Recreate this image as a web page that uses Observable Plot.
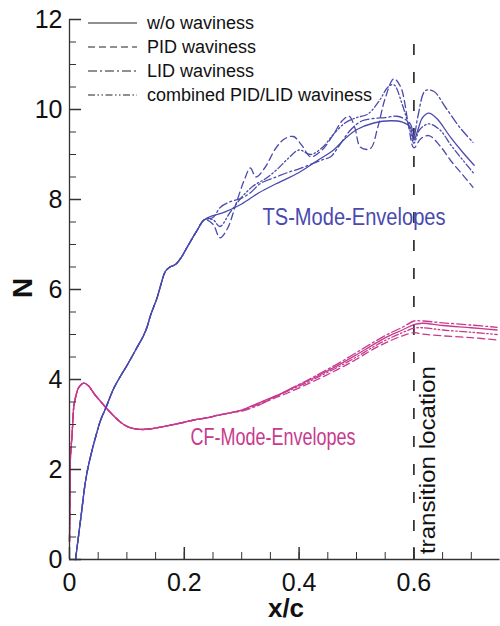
<!DOCTYPE html>
<html><head><meta charset="utf-8">
<script src="https://cdn.jsdelivr.net/npm/d3@7"></script>
<script src="https://cdn.jsdelivr.net/npm/@observablehq/plot@0.6"></script>
<style>body{margin:0;background:#fff;} svg{display:block}</style>
</head><body><div id="chart"></div>
<script>
// ---- data (x/c, N) ----
const seriesNames = ["w/o waviness", "PID waviness", "LID waviness", "combined PID/LID waviness"];

const tsCommon = [[0.0105,0],[0.02,0.95],[0.028,1.75],[0.035,2.2],[0.045,2.7],[0.054,3.09],[0.063,3.36],[0.077,3.8],[0.09,4.1],[0.1,4.31],[0.118,4.72],[0.128,4.95],[0.135,5.16],[0.141,5.42],[0.153,5.83],[0.159,6.1],[0.167,6.4],[0.175,6.5],[0.185,6.56],[0.195,6.72],[0.205,6.94],[0.222,7.31],[0.235,7.55]];
const tsWo = [[0.25,7.64],[0.27,7.72],[0.30,7.9],[0.33,8.15],[0.36,8.35],[0.40,8.6],[0.43,8.85],[0.46,9.1],[0.48,9.35],[0.50,9.55],[0.53,9.7],[0.56,9.75],[0.58,9.72],[0.593,9.62],[0.60,9.32],[0.607,9.55],[0.615,9.82],[0.626,9.92],[0.64,9.8],[0.664,9.38],[0.685,9.05],[0.705,8.76]];
const tsPid = [[0.25,7.45],[0.262,7.15],[0.275,7.35],[0.29,7.9],[0.305,8.45],[0.315,8.7],[0.325,8.5],[0.34,8.7],[0.36,9.15],[0.375,9.35],[0.39,9.4],[0.405,9.2],[0.42,8.95],[0.44,9.1],[0.46,9.45],[0.475,9.75],[0.487,9.85],[0.497,9.6],[0.507,9.16],[0.524,9.13],[0.537,9.6],[0.55,10.25],[0.565,10.68],[0.577,10.5],[0.59,9.7],[0.60,9.15],[0.612,9.35],[0.626,9.42],[0.645,9.2],[0.665,8.85],[0.685,8.55],[0.703,8.27]];
const tsLid = [[0.25,7.6],[0.263,7.83],[0.28,7.95],[0.298,8.02],[0.315,8.15],[0.333,8.36],[0.36,8.5],[0.38,8.6],[0.40,8.68],[0.42,8.78],[0.44,8.88],[0.455,8.95],[0.47,9.2],[0.49,9.55],[0.51,9.75],[0.53,9.8],[0.55,9.82],[0.57,9.85],[0.585,9.78],[0.595,9.65],[0.60,9.4],[0.607,9.85],[0.62,10.42],[0.635,10.4],[0.655,10.05],[0.68,9.6],[0.703,9.27]];
const tsComb = [[0.25,7.55],[0.262,7.4],[0.28,7.72],[0.30,8.05],[0.32,8.3],[0.34,8.45],[0.36,8.65],[0.38,8.9],[0.40,9.1],[0.42,9.0],[0.44,9.15],[0.46,9.45],[0.48,9.7],[0.50,9.82],[0.52,9.9],[0.54,10.2],[0.555,10.5],[0.565,10.55],[0.58,10.1],[0.594,9.5],[0.60,9.25],[0.61,9.55],[0.626,9.68],[0.645,9.55],[0.665,9.2],[0.685,8.88],[0.705,8.57]];

const cfCommon = [[0,0.4],[0.001,1.5],[0.0017,2.27],[0.0046,2.79],[0.0075,3.4],[0.0105,3.6],[0.016,3.82],[0.025,3.92],[0.033,3.86],[0.042,3.7],[0.055,3.5],[0.066,3.34],[0.078,3.18],[0.089,3.05],[0.1,2.96],[0.112,2.91],[0.124,2.89],[0.14,2.9],[0.17,2.97],[0.2,3.05],[0.217,3.1],[0.24,3.15],[0.26,3.21],[0.28,3.26]];
const cfWo = [[0.30,3.32],[0.33,3.48],[0.36,3.64],[0.38,3.76],[0.42,4.0],[0.44,4.13],[0.47,4.33],[0.50,4.55],[0.53,4.78],[0.555,4.96],[0.58,5.1],[0.60,5.22],[0.615,5.25],[0.65,5.2],[0.70,5.15],[0.745,5.1]];
const cfPid = [[0.30,3.31],[0.33,3.45],[0.36,3.6],[0.38,3.7],[0.42,3.93],[0.44,4.05],[0.47,4.24],[0.50,4.45],[0.53,4.68],[0.555,4.84],[0.58,4.97],[0.60,5.04],[0.615,5.01],[0.65,4.97],[0.70,4.93],[0.745,4.88]];
const cfLid = [[0.30,3.3],[0.33,3.43],[0.36,3.62],[0.38,3.76],[0.42,4.02],[0.44,4.16],[0.47,4.37],[0.50,4.6],[0.53,4.83],[0.555,5.01],[0.58,5.16],[0.60,5.3],[0.615,5.3],[0.65,5.26],[0.70,5.21],[0.745,5.16]];
const cfComb = [[0.30,3.32],[0.33,3.47],[0.36,3.63],[0.38,3.74],[0.42,3.97],[0.44,4.1],[0.47,4.29],[0.50,4.5],[0.53,4.73],[0.555,4.9],[0.58,5.04],[0.60,5.14],[0.615,5.15],[0.65,5.1],[0.70,5.05],[0.745,5.0]];

const transitionX = 0.6;
const xMajorTicks = [0, 0.2, 0.4, 0.6];
const xMinorTicks = [0,0.05,0.1,0.15,0.2,0.25,0.3,0.35,0.4,0.45,0.5,0.55,0.6,0.65,0.7];
const yMajorTicks = [0, 2, 4, 6, 8, 10, 12];
const yMinorTicks = [0,0.5,1,1.5,2,2.5,3,3.5,4,4.5,5,5.5,6,6.5,7,7.5,8,8.5,9,9.5,10,10.5,11,11.5,12];
const annotations = [
  {x: 0.4957, N: 7.6, text: "TS-Mode-Envelopes", mode: "TS"},
  {x: 0.3545, N: 2.71, text: "CF-Mode-Envelopes", mode: "CF"}
];

// ---- styling ----
const BLUE = "#4a4aae";
const MAG = "#c83a8e";
const dashes = ["none", "7,4", "9,3,2,3", "7,2.5,1.5,2.5,1.5,2.5"];
const textWidths = {"TS-Mode-Envelopes": 183, "CF-Mode-Envelopes": 165, "transition location": 188};

const toRows = (pts) => pts.map(([x, N]) => ({x, N}));
const tsTails = [tsWo, tsPid, tsLid, tsComb];
const cfTails = [cfWo, cfPid, cfLid, cfComb];

const lineMarks = [];
[cfTails, tsTails].forEach((tails, m) => {
  const common = m === 0 ? cfCommon : tsCommon;
  const color = m === 0 ? MAG : BLUE;
  tails.forEach((tail, i) => {
    lineMarks.push(Plot.line(toRows(common.concat(tail)), {
      x: "x", y: "N", stroke: color, strokeWidth: 1.3,
      strokeDasharray: dashes[i], curve: "catmull-rom"
    }));
  });
});

const axisColor = "#333";
const chart = Plot.plot({
  width: 500, height: 626,
  marginLeft: 69, marginRight: 0.5, marginTop: 19, marginBottom: 67,
  x: {domain: [0, 0.75]},
  y: {domain: [0, 12]},
  style: {fontFamily: "'Liberation Sans', Arial, Helvetica, sans-serif", background: "#fff", color: "#111"},
  marks: [
    Plot.ruleX([transitionX], {y1: 0, y2: 11.75, stroke: "#222", strokeWidth: 1.6, strokeDasharray: "11,17"}),
    ...lineMarks,
    Plot.text(annotations, {x: "x", y: "N", text: "text", fill: d => d.mode === "TS" ? BLUE : MAG, fontSize: 23}),
    Plot.text(["transition location"], {x: () => transitionX, y: () => 0.12, text: d => d, rotate: -90, textAnchor: "start", dx: 14, fontSize: 22, fill: "#111"}),
    Plot.ruleX([0], {y1: 0, y2: 12, stroke: axisColor, strokeWidth: 1.3}),
    Plot.ruleY([0], {stroke: axisColor, strokeWidth: 1.3}),
    Plot.axisX(xMinorTicks, {tickSize: -7, text: null, label: null, stroke: axisColor}),
    Plot.axisX(xMajorTicks, {tickSize: -12, text: null, label: null, stroke: axisColor, strokeWidth: 1.5}),
    Plot.axisX(xMajorTicks, {tickSize: 0, tickPadding: 14, label: null, fontSize: 25, tickFormat: d => String(d)}),
    Plot.axisY(yMinorTicks, {tickSize: -7, text: null, label: null, stroke: axisColor}),
    Plot.axisY(yMajorTicks, {tickSize: -12, text: null, label: null, stroke: axisColor, strokeWidth: 1.5}),
    Plot.axisY(yMajorTicks, {tickSize: 0, tickPadding: 7, label: null, fontSize: 25, tickFormat: d => String(d)})
  ]
});

const svg = d3.select(chart);
// fit annotation widths to the reference's condensed lettering
svg.selectAll("text").each(function() {
  const w = textWidths[this.textContent];
  if (w) d3.select(this).attr("textLength", w).attr("lengthAdjust", "spacingAndGlyphs");
});
// axis titles
svg.append("text").attr("x", 286).attr("y", 617).attr("text-anchor", "middle")
  .attr("font-size", 26).attr("font-weight", "bold").attr("fill", "#111").text("x/c");
svg.append("text").attr("transform", "translate(32,288) rotate(-90)").attr("text-anchor", "middle")
  .attr("font-size", 28).attr("font-weight", "bold").attr("fill", "#111").text("N");
// legend
const lg = svg.append("g").attr("font-size", 18).attr("fill", "#111").attr("text-anchor", "start");
seriesNames.forEach((name, i) => {
  const y = 23 + i * 24;
  lg.append("line").attr("x1", 88).attr("x2", 137).attr("y1", y).attr("y2", y)
    .attr("stroke", "#222").attr("stroke-width", 1.2).attr("stroke-dasharray", dashes[i]);
  lg.append("text").attr("x", 147).attr("y", y).attr("dy", "0.35em").attr("text-anchor", "start").text(name);
});

document.getElementById("chart").appendChild(chart);
</script>
</body></html>
